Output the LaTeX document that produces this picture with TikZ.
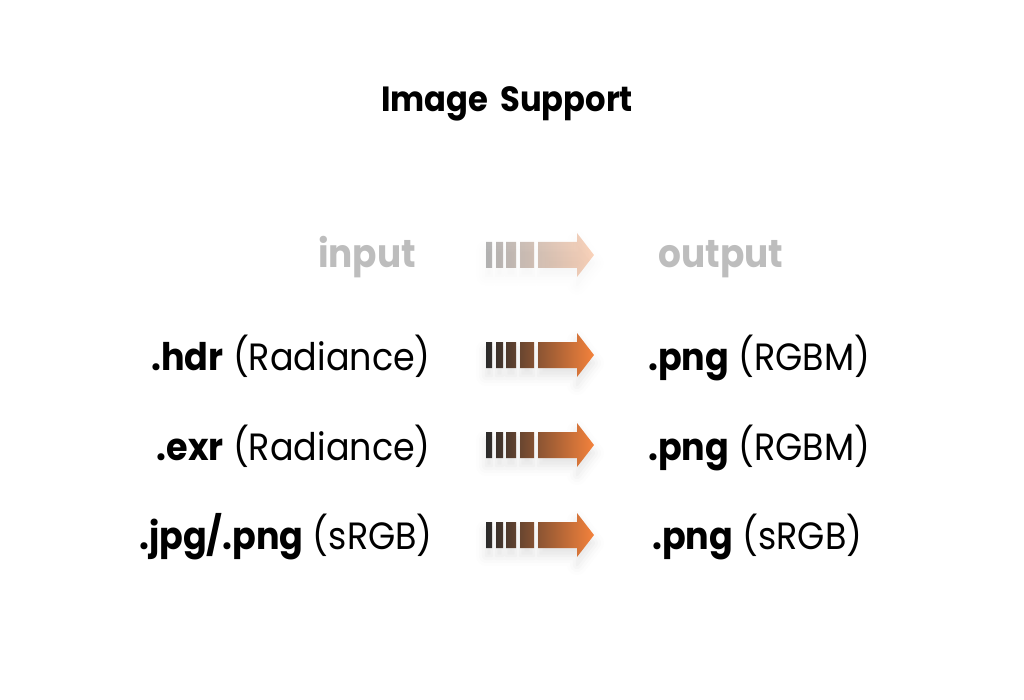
\documentclass[tikz,border=0pt]{standalone}
\usepackage{fontspec}
\setmainfont{Poppins}[FakeStretch=0.92]
\usetikzlibrary{positioning, shadows.blur}

\definecolor{bardark}{HTML}{2A2A2A}
\definecolor{barmid}{HTML}{6E4634}
\definecolor{barorange}{HTML}{F4823C}
\definecolor{headgray}{HTML}{BDBDBD}

\tikzset{
	title/.style={font=\fontsize{35}{42}\selectfont\bfseries, inner sep=0pt},
	head/.style={font=\fontsize{39}{46}\selectfont\bfseries, text=headgray, inner sep=0pt},
	row/.style={font=\fontsize{38}{46}\selectfont, inner sep=0pt},
	gradarrow/.style={left color=bardark, middle color=barmid, right color=barorange,
		blur shadow={shadow xshift=0pt, shadow yshift=-8pt, shadow opacity=11, shadow blur radius=10pt}}
}

\begin{document}
\begin{tikzpicture}[x=1pt, y=-1pt]
	\useasboundingbox (0,0) rectangle (1024,700);
	\node[title, anchor=base] (title) at (507,112) {Image\hspace{0.35em}Support};
	\node[head, anchor=base] (in) at (367,268) {input};
	\node[head, anchor=base] (out) at (721,268) {output};
	\node[row, anchor=base east] (hdr) at (431,370) {\textbf{.hdr} (Radiance)};
	\node[row, anchor=base east] (exr) at (431,460) {\textbf{.exr} (Radiance)};
	\node[row, anchor=base east] (jpg) at (433,549) {\textbf{.jpg/.png} (sRGB)};
	\node[row, anchor=base west] (rgbm1) at (648,370) {\textbf{.png} (RGBM)};
	\node[row, anchor=base west] (rgbm2) at (648,460) {\textbf{.png} (RGBM)};
	\node[row, anchor=base west] (srgb) at (652,549) {\textbf{.png} (sRGB)};
	% arrows: four bars and a head
	\foreach \y/\op in {255/0.35, 355/1, 445/1, 535/1}{
		\begin{scope}[opacity=\op]
			\path[gradarrow]
				(486,{\y-13}) rectangle (492,{\y+13})
				(496,{\y-13}) rectangle (503,{\y+13})
				(506,{\y-13}) rectangle (516,{\y+13})
				(520,{\y-13}) rectangle (534,{\y+13})
				(538,{\y-13}) -- (577,{\y-13}) -- (577,{\y-22}) -- (594,\y)
				-- (577,{\y+22}) -- (577,{\y+13}) -- (538,{\y+13}) -- cycle;
		\end{scope}
	}
\end{tikzpicture}
\end{document}
